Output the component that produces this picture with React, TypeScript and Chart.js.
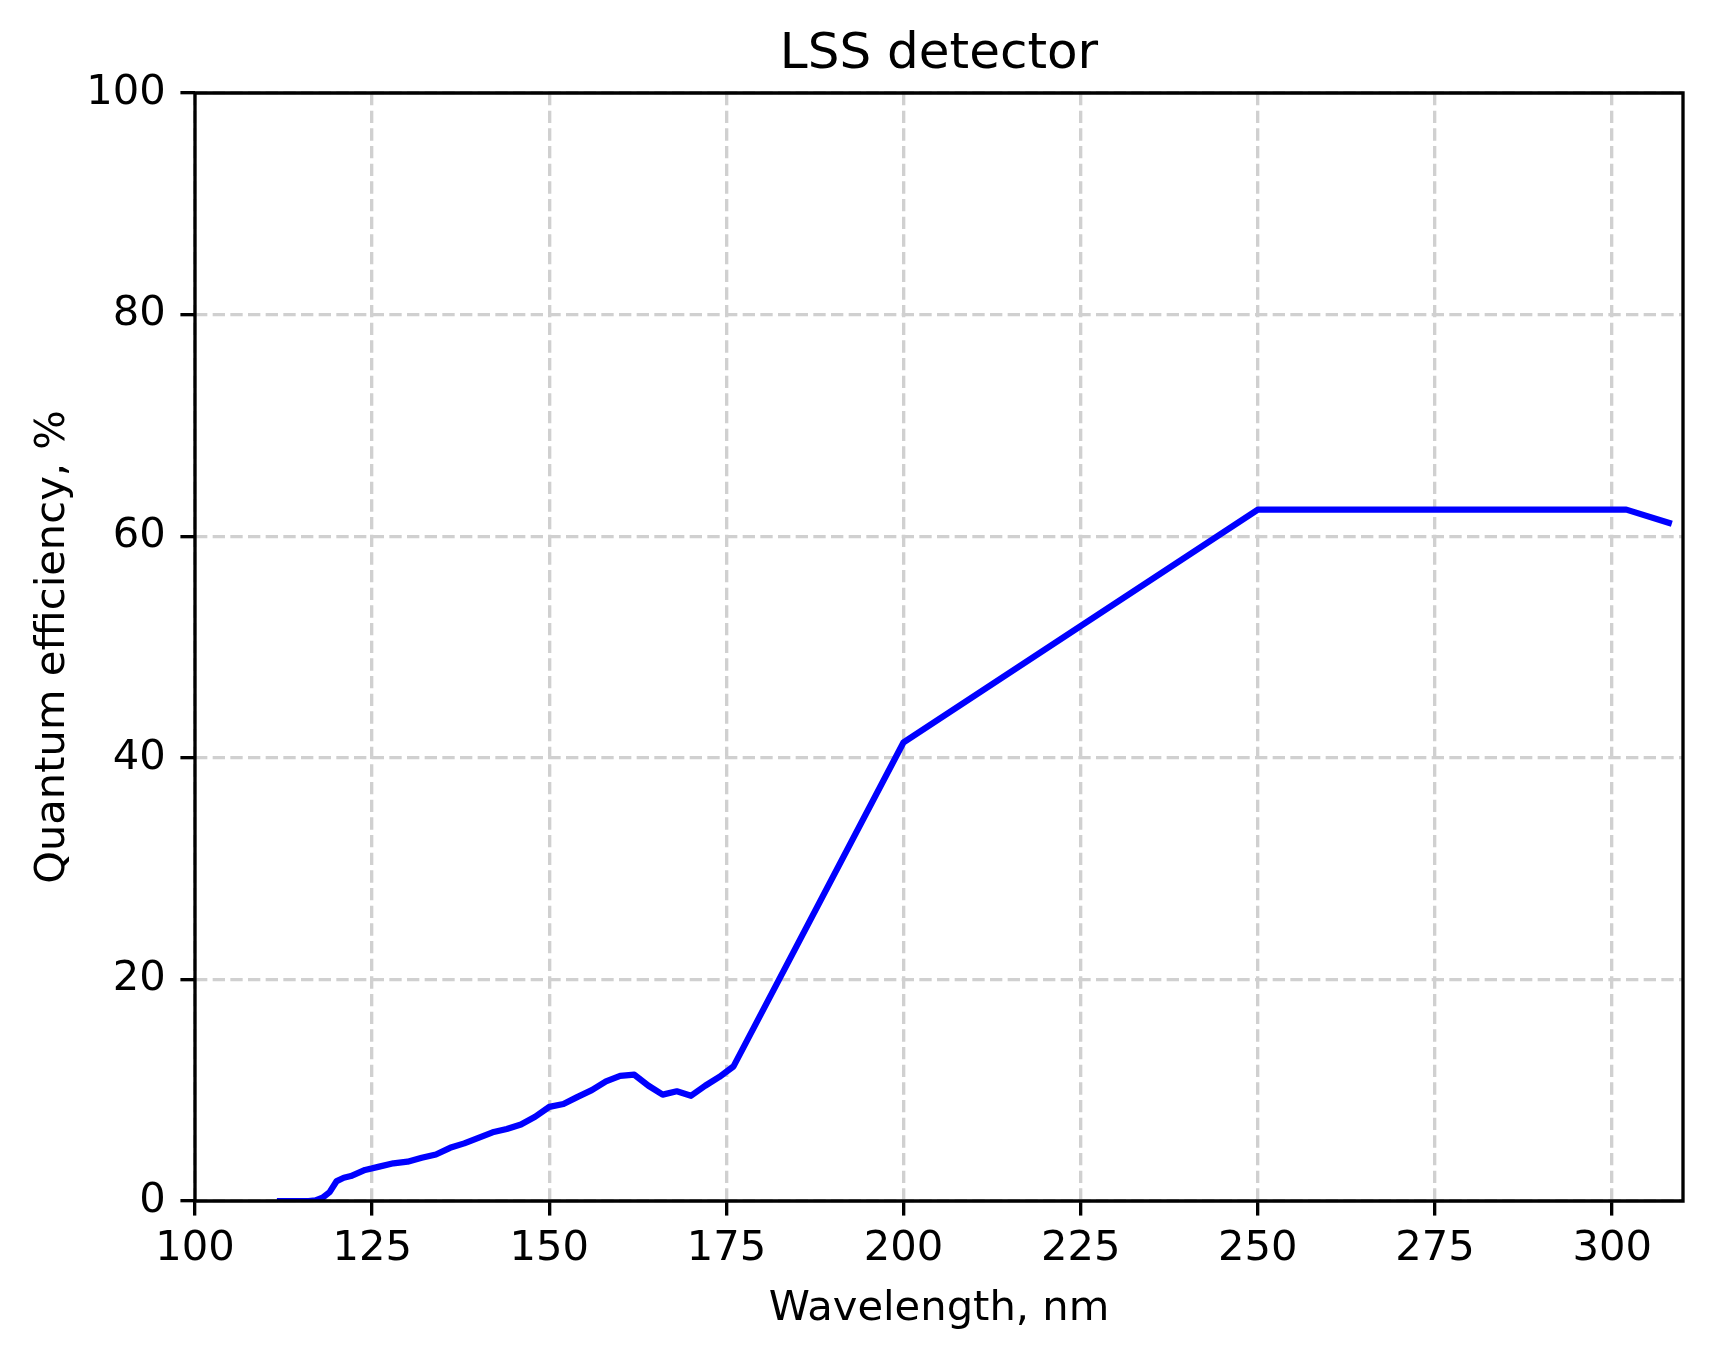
import React, { useEffect, useRef } from "react";
import { Chart, registerables } from "chart.js";

Chart.register(...registerables);

// ---- Data ----
const wavelengths = [
  112, 114, 116, 117, 118, 119, 120, 121, 122, 124, 126, 128, 130, 132, 134, 136,
  138, 140, 142, 144, 146, 148, 150, 152, 154, 156, 158, 160, 162, 164, 166, 168,
  170, 172, 174, 176, 200, 250, 302, 308,
];
const efficiency = [
  0, 0, 0, 0.05, 0.3, 0.8, 1.8, 2.1, 2.25, 2.8, 3.1, 3.4, 3.55, 3.9, 4.2, 4.8,
  5.2, 5.7, 6.2, 6.5, 6.9, 7.6, 8.5, 8.75, 9.4, 10.0, 10.8, 11.3, 11.4, 10.4, 9.6, 9.9,
  9.5, 10.4, 11.2, 12.15, 41.4, 62.4, 62.4, 61.2,
];
const xTicks = [100, 125, 150, 175, 200, 225, 250, 275, 300];
const yTicks = [0, 20, 40, 60, 80, 100];

const TITLE = "LSS detector";
const X_LABEL = "Wavelength, nm";
const Y_LABEL = "Quantum efficiency, %";

const W = 1713;
const H = 1357;
const FONT = "'DejaVu Sans', 'Liberation Sans', sans-serif";
const PT = 300 / 72;
const GRID_DASH = [3.7 * 0.8 * PT, 1.6 * 0.8 * PT];

const framePlugin = {
  id: "frame",
  beforeDraw(chart: any) {
    const ctx = chart.ctx;
    ctx.save();
    ctx.fillStyle = "#ffffff";
    ctx.fillRect(0, 0, chart.width, chart.height);
    ctx.restore();
  },
  afterDraw(chart: any) {
    const { ctx, chartArea } = chart;
    const { left, right, top, bottom } = chartArea;
    ctx.save();
    ctx.strokeStyle = "#000000";
    ctx.lineWidth = 0.8 * PT;
    ctx.lineCap = "square";
    ctx.setLineDash([]);
    ctx.beginPath();
    ctx.rect(left, top, right - left, bottom - top);
    ctx.stroke();

    ctx.fillStyle = "#000000";
    // Title
    ctx.font = `${12 * PT}px ${FONT}`;
    ctx.textAlign = "center";
    ctx.textBaseline = "alphabetic";
    ctx.fillText(TITLE, (left + right) / 2, top - 25.5);
    // X label
    ctx.font = `${10 * PT}px ${FONT}`;
    ctx.fillText(X_LABEL, (left + right) / 2, 1319.5);
    // Y label
    ctx.translate(63.5, (top + bottom) / 2);
    ctx.rotate(-Math.PI / 2);
    ctx.fillText(Y_LABEL, 0, 0);
    ctx.restore();
  },
};

function gridOpts() {
  return {
    color: "#d0d0d0",
    lineWidth: 0.8 * PT,
    drawTicks: true,
    tickLength: 3.5 * PT,
    tickColor: "#000000",
    tickWidth: 0.8 * PT,
    tickBorderDash: [],
  };
}

export default function App() {
  const ref = useRef<HTMLCanvasElement | null>(null);

  useEffect(() => {
    if (!ref.current) return;
    const points = wavelengths.map((x, i) => ({ x, y: efficiency[i] }));
    const tickFont = { family: FONT, size: 10 * PT, lineHeight: 1.2 };
    const chart = new Chart(ref.current, {
      type: "line",
      data: {
        datasets: [
          {
            data: points,
            borderColor: "#0000ff",
            borderWidth: 1.5 * PT,
            pointRadius: 0,
            tension: 0,
            borderCapStyle: "square",
            borderJoinStyle: "round",
            fill: false,
          },
        ],
      },
      options: {
        animation: false,
        responsive: false,
        maintainAspectRatio: false,
        layout: { padding: { left: 0, top: 93, right: W - 1683, bottom: 0 } },
        plugins: {
          legend: { display: false },
          title: { display: false },
          tooltip: { enabled: false },
        },
        scales: {
          x: {
            type: "linear",
            min: 100,
            max: 310,
            afterBuildTicks: (scale: any) => {
              scale.ticks = xTicks.map((v) => ({ value: v }));
            },
            afterFit: (scale: any) => {
              scale.height = H - 1201;
            },
            border: { display: false, dash: GRID_DASH },
            grid: gridOpts(),
            ticks: {
              color: "#000000",
              font: tickFont,
              padding: 9,
              maxRotation: 0,
              autoSkip: false,
              callback: (v: any) => String(v),
            },
          },
          y: {
            type: "linear",
            min: 0,
            max: 100,
            afterBuildTicks: (scale: any) => {
              scale.ticks = yTicks.map((v) => ({ value: v }));
            },
            afterFit: (scale: any) => {
              scale.width = 195;
            },
            border: { display: false, dash: GRID_DASH },
            grid: gridOpts(),
            ticks: {
              color: "#000000",
              font: tickFont,
              padding: 3.5 * PT,
              autoSkip: false,
              callback: (v: any) => String(v),
            },
          },
        },
      },
      plugins: [framePlugin],
    } as any);
    return () => chart.destroy();
  }, []);

  return (
    <div style={{ position: "absolute", left: 0, top: 0, width: W, height: H, background: "#fff" }}>
      <canvas ref={ref} width={W} height={H} style={{ width: W, height: H, display: "block" }} />
    </div>
  );
}
